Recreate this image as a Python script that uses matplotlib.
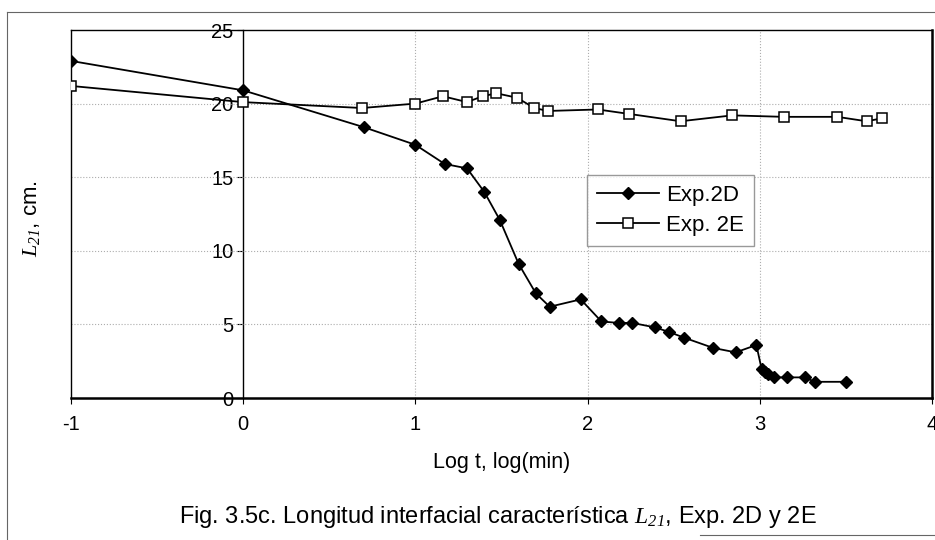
import numpy as np
from matplotlib import pyplot as plt
from matplotlib.lines import Line2D

plt.rcParams['font.family'] = ['Liberation Sans', 'DejaVu Sans']
plt.rcParams['mathtext.fontset'] = 'custom'
plt.rcParams['mathtext.rm'] = 'Liberation Serif:italic'
plt.rcParams['mathtext.it'] = 'Liberation Serif:italic'
plt.rcParams['mathtext.default'] = 'it'

# Exp.2D (filled diamonds)
x_2d = [-1, 0, 0.70, 1.0, 1.17, 1.30, 1.40, 1.49, 1.60, 1.70, 1.78, 1.96, 2.08, 2.18, 2.26,
        2.39, 2.47, 2.56, 2.73, 2.86, 2.98, 3.01, 3.03, 3.05, 3.08, 3.16, 3.26, 3.32, 3.50]
y_2d = [22.9, 20.9, 18.4, 17.2, 15.9, 15.6, 14.0, 12.1, 9.1, 7.1, 6.2, 6.7, 5.2, 5.1, 5.1,
        4.8, 4.5, 4.1, 3.4, 3.1, 3.6, 2.0, 1.8, 1.6, 1.4, 1.4, 1.4, 1.1, 1.1]

# Exp. 2E (open squares)
x_2e = [-1, 0, 0.69, 1.0, 1.16, 1.30, 1.39, 1.47, 1.59, 1.69, 1.77, 2.06, 2.24, 2.54,
        2.84, 3.14, 3.45, 3.62, 3.71]
y_2e = [21.2, 20.1, 19.7, 20.0, 20.5, 20.1, 20.5, 20.7, 20.4, 19.7, 19.5, 19.6, 19.3, 18.8,
        19.2, 19.1, 19.1, 18.8, 19.0]

xticks = [-1, 0, 1, 2, 3, 4]
yticks = [0, 5, 10, 15, 20, 25]

fig = plt.figure(figsize=(9.35, 5.4), dpi=100)
ax = fig.add_axes([71/935, 1-398/540, 861/935, 368/540])

ax.plot(x_2d, y_2d, color='black', lw=1.3, marker='D', markersize=6.5,
        mfc='black', mec='black', label='Exp.2D', zorder=3)
ax.plot(x_2e, y_2e, color='black', lw=1.3, marker='s', markersize=7,
        mfc='white', mec='black', mew=1.1, label='Exp. 2E', zorder=3)

ax.set_xlim(-1, 4)
ax.set_ylim(0, 25)
ax.set_xticks(xticks)
ax.set_xticklabels([str(t) for t in xticks])
ax.tick_params(axis='x', labelsize=14.5, length=4, direction='out', pad=8)
ax.set_yticks(yticks)
ax.tick_params(axis='y', left=False, labelleft=False)

# gridlines
for yv in [5, 10, 15, 20]:
    ax.axhline(yv, color='0.68', ls=':', lw=0.8, zorder=1)
for xv in [1, 2, 3]:
    ax.axvline(xv, color='0.68', ls=':', lw=0.8, zorder=1)

for s in ['left', 'top']:
    ax.spines[s].set_linewidth(1.0)
ax.spines['right'].set_linewidth(1.8)
ax.spines['bottom'].set_linewidth(1.8)

# y axis crossing at x = 0
sec = ax.secondary_yaxis(0.2)
sec.set_yticks(yticks)
sec.tick_params(labelsize=14.5, length=4, direction='out', pad=3)
sec.spines['left'].set_linewidth(1.0)

ax.set_xlabel('Log t, log(min)', fontsize=15.5, labelpad=13)
fig.text(0.034, 1-219/540, r'$L_{21}$' + ', cm.', rotation=90, fontsize=16,
         ha='center', va='center')

leg = ax.legend(loc='upper left', bbox_to_anchor=(0.599, 0.606), fontsize=16,
                frameon=True, fancybox=False, borderpad=0.45, handlelength=2.8,
                handletextpad=0.3, labelspacing=0.4, borderaxespad=0)
leg.get_frame().set_edgecolor('0.5')
leg.get_frame().set_linewidth(1.0)

fig.text(498/935, 1-517/540,
         'Fig. 3.5c. Longitud interfacial característica ' + r'$L_{21}$' + ', Exp. 2D y 2E',
         fontsize=17, ha='center', va='center')

# outer frame of the scanned chart
fig.add_artist(Line2D([7/935, 7/935], [0, 1-12/540], color='0.4', lw=0.8))
fig.add_artist(Line2D([7/935, 1], [1-12/540, 1-12/540], color='0.4', lw=0.8))
fig.add_artist(Line2D([700/935, 1], [1-535/540, 1-535/540], color='0.4', lw=0.8))

plt.savefig('out.png', dpi=100)
